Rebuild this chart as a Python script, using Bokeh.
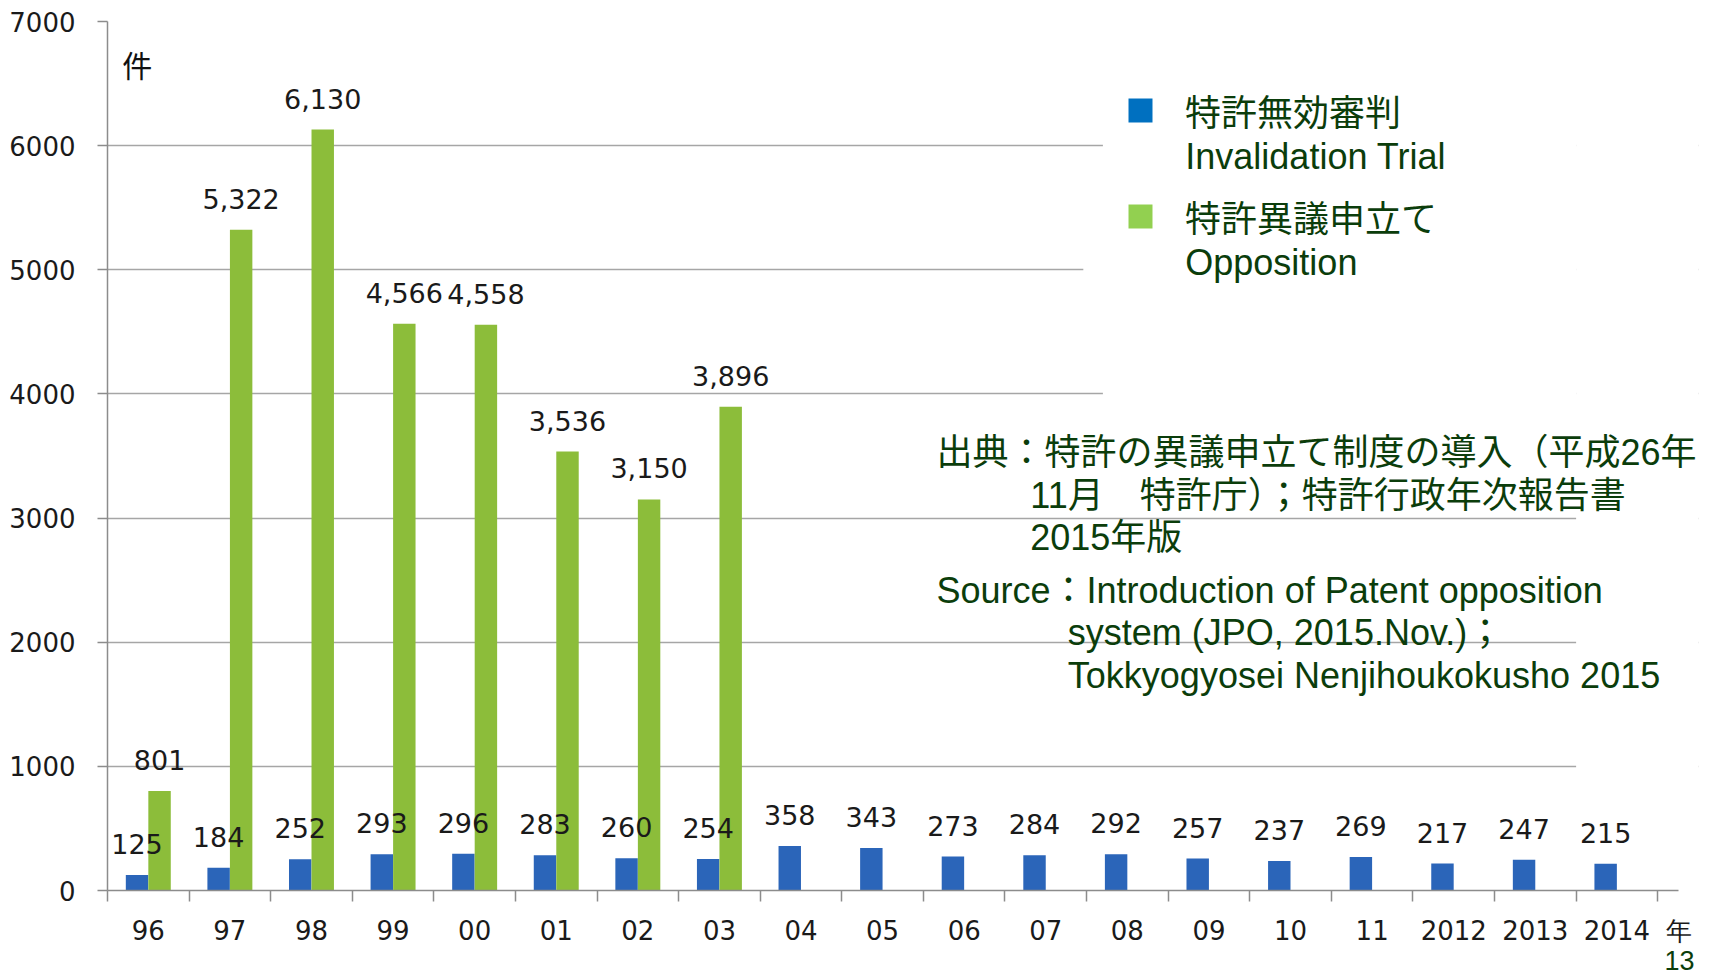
from bokeh.plotting import figure
from bokeh.models import (Range1d, FixedTicker, ColumnDataSource, Legend, LegendItem,
                          BoxAnnotation, Label, Title)
from bokeh.transform import dodge
from bokeh.core.properties import value
from bokeh.embed import file_html
from bokeh.resources import INLINE

# ---------------- data ----------------
years = ["96", "97", "98", "99", "00", "01", "02", "03", "04", "05", "06", "07",
         "08", "09", "10", "11", "2012", "2013", "2014"]
invalidation = [125, 184, 252, 293, 296, 283, 260, 254, 358, 343, 273, 284,
                292, 257, 237, 269, 217, 247, 215]
opposition = [801, 5322, 6130, 4566, 4558, 3536, 3150, 3896]
y_ticks = [0, 1000, 2000, 3000, 4000, 5000, 6000, 7000]
legend_ja = ["特許無効審判", "特許異議申立て"]
legend_en = ["Invalidation Trial", "Opposition"]
source_ja = ["出典：特許の異議申立て制度の導入（平成26年",
             "11月　特許庁）；特許行政年次報告書",
             "2015年版"]
source_en = ["Source：Introduction of Patent opposition",
             "system (JPO, 2015.Nov.)；",
             "Tokkyogyosei Nenjihoukokusho 2015"]
unit_y = "件"
unit_x = "年"
page_no = "13"

# ---------------- style ----------------
BLUE = "#2B65B9"
GREEN = "#8CBD3A"
LEG_BLUE = "#0070C0"
LEG_GREEN = "#92D050"
DKGREEN = "#0B3D0B"
AXIS = "#8c8c8c"
GRID = "#a6a6a6"
NUM_FONT = "DejaVu Sans"
TXT_FONT = "'Liberation Sans', 'Noto Sans CJK JP'"
CJK_FONT = "Noto Sans CJK JP"
OFF = 0.138
BW = 0.275
X_END = 18.76

idx = list(range(len(years)))
src_inv = ColumnDataSource(dict(x=idx, v=invalidation,
                                label=[f"{v:,}" for v in invalidation]))
src_opp = ColumnDataSource(dict(x=idx[:len(opposition)], v=opposition,
                                label=[f"{v:,}" for v in opposition]))

p = figure(frame_width=1591, frame_height=869,
           x_range=Range1d(-0.5, 19.0), y_range=Range1d(0, 7000),
           output_backend="svg", toolbar_location=None,
           min_border_left=107, min_border_right=5, min_border_top=21,
           min_border_bottom=86)
p.outline_line_color = None
p.background_fill_color = "white"
p.border_fill_color = "white"

# grid
p.xgrid.visible = False
p.ygrid.ticker = FixedTicker(ticks=y_ticks)
p.ygrid.grid_line_color = GRID
p.ygrid.grid_line_width = 1.5

# white masks where the original's boxes hide gridlines
for l, r, b, t in [(11.7, 17.5, 3800, 6500), (11.46, 17.5, 4800, 5200), (17.5, None, 0, 7000)]:
    box = BoxAnnotation(left=l, right=r, bottom=b, top=t, fill_color="white",
                        fill_alpha=1.0, line_alpha=0, level="underlay")
    p.add_layout(box)

# x axis (ticks at category boundaries, labels at centres, unit "年" at the end)
xa = p.xaxis[0]
xa.ticker = FixedTicker(ticks=idx + [X_END],
                        minor_ticks=[i - 0.5 for i in range(len(years) + 1)])
overrides = {i: y for i, y in enumerate(years)}
overrides[X_END] = unit_x
xa.major_label_overrides = overrides
xa.major_tick_out = 0
xa.major_tick_in = 0
xa.minor_tick_out = 11
xa.minor_tick_in = 0
xa.minor_tick_line_color = AXIS
xa.minor_tick_line_width = 1.5
xa.axis_line_color = AXIS
xa.axis_line_width = 1.5
xa.bounds = (-0.5, X_END)
xa.major_label_standoff = 14
xa.major_label_text_font = NUM_FONT
xa.major_label_text_font_size = "26px"
xa.major_label_text_color = "#1a1a1a"

# y axis
ya = p.yaxis[0]
ya.ticker = FixedTicker(ticks=y_ticks)
ya.major_tick_out = 10
ya.major_tick_in = 0
ya.minor_tick_line_color = None
ya.major_tick_line_color = AXIS
ya.major_tick_line_width = 1.5
ya.axis_line_color = AXIS
ya.axis_line_width = 1.5
ya.major_label_standoff = 22
ya.major_label_text_font = NUM_FONT
ya.major_label_text_font_size = "26px"
ya.major_label_text_color = "#1a1a1a"

# bars
p.vbar(x=dodge("x", -OFF, range=p.x_range), top="v", width=BW, source=src_inv,
       fill_color=BLUE, line_color=None)
p.vbar(x=dodge("x", OFF, range=p.x_range), top="v", width=BW, source=src_opp,
       fill_color=GREEN, line_color=None)

# data labels
for src, off in [(src_inv, -OFF), (src_opp, OFF)]:
    p.text(x=dodge("x", off, range=p.x_range), y="v", text="label", source=src,
           text_align="center", text_baseline="alphabetic", y_offset=-31,
           text_font=value(NUM_FONT), text_font_size="27px", text_color="#1a1a1a")

# legend (proxy swatches in the legend's own colours; NaN so they draw nothing in the plot)
nan = float("nan")
r1 = p.scatter(x=[nan], y=[nan], marker="square", fill_color=LEG_BLUE, line_color=None)
r2 = p.scatter(x=[nan], y=[nan], marker="square", fill_color=LEG_GREEN, line_color=None)
legend = Legend(items=[LegendItem(label=legend_ja[0], renderers=[r1]),
                       LegendItem(label=legend_ja[1], renderers=[r2])],
                location=(1003, 644), orientation="vertical",
                glyph_width=60, glyph_height=60, label_standoff=15, spacing=46,
                padding=0, margin=0, border_line_color=None,
                background_fill_alpha=0,
                label_text_font=TXT_FONT, label_text_font_size="36px",
                label_text_color=DKGREEN)
p.add_layout(legend)

for txt, yy in zip(legend_en, [5912, 5059]):
    p.add_layout(Label(x=12.71, y=yy, text=txt, text_baseline="middle",
                       text_font=TXT_FONT, text_font_size="36px", text_color=DKGREEN))

# source notes
for txt, xx, yy in zip(source_ja, [9.66, 10.81, 10.81], [3528, 3182, 2840]):
    p.add_layout(Label(x=xx, y=yy, text=txt, text_baseline="middle",
                       text_font=TXT_FONT, text_font_size="36px", text_color=DKGREEN))
for txt, xx, yy in zip(source_en, [9.66, 11.27, 11.27], [2417, 2082, 1732]):
    p.add_layout(Label(x=xx, y=yy, text=txt, text_baseline="middle",
                       text_font=TXT_FONT, text_font_size="36px", text_color=DKGREEN))

# unit label on the value axis
p.add_layout(Label(x=-0.32, y=6654, text=unit_y, text_baseline="middle",
                   text_font=CJK_FONT, text_font_size="30px", text_color="#111111"))

# page number
p.add_layout(Title(text=page_no, align="right", standoff=0, offset=4,
                   text_font="Liberation Sans", text_font_size="27px",
                   text_font_style="normal", text_color=DKGREEN), "below")

open("out.html", "w").write(file_html(p, INLINE))
